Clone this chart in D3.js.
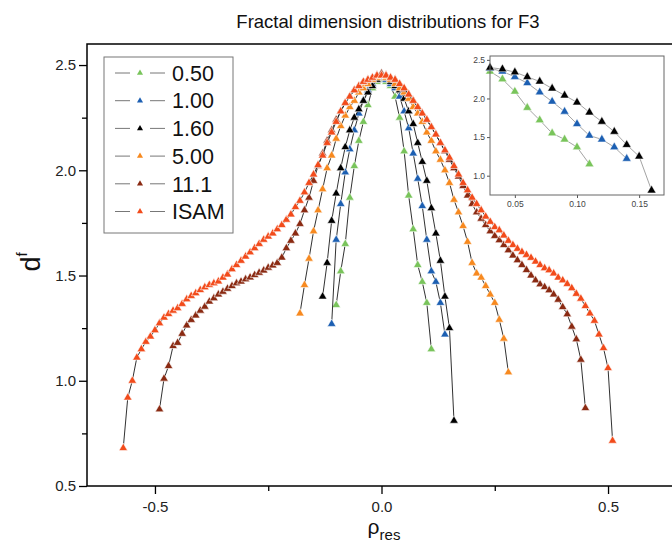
<!DOCTYPE html>
<html>
<head>
<meta charset="utf-8">
<script src="https://cdn.jsdelivr.net/npm/d3@7"></script>
<style>
  body { margin: 0; background: #fff; }
  text { font-family: "Liberation Sans", Arial, sans-serif; }
</style>
</head>
<body>
<svg id="chart"></svg>
<script>
// series names / colours / first rho value (points are spaced 0.01 apart)
var seriesNames  = ["0.50", "1.00", "1.60", "5.00", "11.1", "ISAM"];
var seriesColors = ["#79c45b", "#1c5fb2", "#000000", "#f7891f", "#8a2a12", "#f24b1b"];
var rhoStart     = [-0.10, -0.11, -0.13, -0.18, -0.49, -0.57];

var df050 = [1.36,1.52,1.65,1.87,2.02,2.14,2.23,2.31,2.39,2.42,2.43,2.42,2.40,
             2.35,2.25,2.09,1.88,1.72,1.55,1.47,1.37,1.15];
var df100 = [1.27,1.67,1.84,1.99,2.10,2.19,2.27,2.33,2.38,2.41,2.43,2.44,2.43,2.41,
             2.39,2.35,2.28,2.20,2.08,1.96,1.83,1.67,1.52,1.47,1.37,1.22];
var df160 = [1.40,1.56,1.76,1.89,2.01,2.11,2.19,2.25,2.29,2.33,2.37,2.40,2.43,2.45,
             2.44,2.42,2.40,2.38,2.34,2.28,2.22,2.13,2.04,1.95,1.82,1.70,1.57,1.40,1.25,0.81];
var df500 = [1.32,1.455,1.58,1.71,1.81,1.91,2.01,2.07,2.15,2.21,2.26,2.30,2.33,2.37,2.39,2.41,2.43,2.44,
             2.45,
             2.44,2.43,2.41,2.39,2.37,2.34,2.30,2.27,2.23,2.18,2.14,2.09,2.05,2.00,1.94,1.86,1.80,1.735,
             1.66,1.56,1.51,1.49,1.45,1.41,1.37,1.29,1.20,1.04];
var df111 = [0.864,1.01,1.07,1.165,1.18,1.223,1.263,1.289,1.31,1.333,1.352,1.376,1.392,1.41,1.423,
             1.437,1.45,1.463,1.471,1.482,1.491,1.502,1.513,1.524,1.537,1.548,1.56,1.585,1.63,1.665,
             1.70,1.745,1.81,1.87,1.95,2.02,2.08,2.14,2.19,2.24,2.28,2.32,2.35,2.38,2.40,2.42,2.43,2.44,2.45,
             2.46,
             2.45,2.44,2.43,2.41,2.385,2.36,2.33,2.30,2.27,2.24,2.205,2.17,2.13,2.09,2.05,2.01,1.97,1.925,
             1.88,1.84,1.80,1.77,1.74,1.71,1.688,1.668,1.645,1.62,1.595,1.573,1.55,1.526,1.50,1.477,1.458,
             1.445,1.43,1.41,1.385,1.35,1.316,1.257,1.197,1.10,0.87];
var dfIsam = [0.68,0.92,1.00,1.11,1.15,1.185,1.21,1.24,1.273,1.30,1.317,1.333,1.345,1.365,1.387,1.403,
              1.416,1.431,1.444,1.455,1.463,1.472,1.49,1.505,1.53,1.55,1.57,1.59,1.61,1.63,1.65,1.67,
              1.685,1.70,1.72,1.74,1.765,1.79,1.825,1.855,1.895,1.94,1.98,2.025,2.07,2.13,2.18,2.23,2.28,
              2.32,2.35,2.38,2.40,2.42,2.43,2.44,2.45,
              2.45,
              2.45,2.44,2.43,2.41,2.39,2.36,2.33,2.30,2.27,2.24,2.205,2.17,2.13,2.095,2.06,2.02,1.98,1.94,
              1.905,1.87,1.84,1.81,1.78,1.755,1.73,1.715,1.69,1.665,1.645,1.627,1.612,1.598,1.584,1.566,
              1.55,1.535,1.525,1.51,1.49,1.477,1.46,1.44,1.413,1.39,1.355,1.32,1.285,1.22,1.155,1.06,0.715];

var seriesValues = [df050, df100, df160, df500, df111, dfIsam];

var xTicks = [-0.5, 0, 0.5], xMinor = [-0.25, 0.25];
var yTicks = [0.5, 1.0, 1.5, 2.0, 2.5], yMinor = [0.75, 1.25, 1.75, 2.25];
var insetXTicks = [0.05, 0.10, 0.15], insetYTicks = [1.0, 1.5, 2.0, 2.5];

var series = seriesValues.map(function (vals, s) {
  return {
    name: seriesNames[s],
    color: seriesColors[s],
    points: vals.map(function (v, i) {
      return { x: Math.round((rhoStart[s] + i * 0.01) * 100) / 100, y: v };
    })
  };
});

var svgWidth = 672, svgHeight = 543;
var svg = d3.select("#chart")
  .attr("width", svgWidth)
  .attr("height", svgHeight);

var xScale = d3.scaleLinear().domain([-0.65, 0.65]).range([87, 676]);
var yScale = d3.scaleLinear().domain([0.5, 2.6]).range([486, 44]);

// title
svg.append("text")
  .attr("x", 388).attr("y", 28)
  .attr("text-anchor", "middle")
  .attr("font-size", 18.5).attr("fill", "#111")
  .text("Fractal dimension distributions for F3");

// axes
function fmt1(d) { return d.toFixed(1); }

var yAx = svg.append("g").attr("transform", "translate(87,0)")
  .call(d3.axisLeft(yScale).tickValues(yTicks).tickSize(8).tickSizeOuter(0).tickPadding(3).tickFormat(fmt1));
var yAxMinor = svg.append("g").attr("transform", "translate(87,0)")
  .call(d3.axisLeft(yScale).tickValues(yMinor).tickSize(5).tickSizeOuter(0).tickFormat(""));
var xAx = svg.append("g").attr("transform", "translate(0,486)")
  .call(d3.axisBottom(xScale).tickValues(xTicks).tickSize(8).tickSizeOuter(0).tickPadding(7.5).tickFormat(fmt1));
var xAxMinor = svg.append("g").attr("transform", "translate(0,486)")
  .call(d3.axisBottom(xScale).tickValues(xMinor).tickSize(5).tickSizeOuter(0).tickFormat(""));

[yAx, yAxMinor, xAx, xAxMinor].forEach(function (g) {
  g.select(".domain").remove();
  g.selectAll("line").attr("stroke", "#000").attr("stroke-width", 1.3);
  g.selectAll("text").attr("font-size", 15).attr("fill", "#222")
    .style("font-family", "'Liberation Sans', Arial, sans-serif");
});

// plot frame
svg.append("rect")
  .attr("x", 87).attr("y", 44)
  .attr("width", 676 - 87).attr("height", 486 - 44)
  .attr("fill", "none").attr("stroke", "#000").attr("stroke-width", 1.5);

// axis labels
var yLab = svg.append("text")
  .attr("transform", "translate(40,262) rotate(-90)")
  .attr("text-anchor", "middle")
  .attr("font-size", 27).attr("fill", "#111");
yLab.append("tspan").text("d");
yLab.append("tspan").attr("font-size", 15).attr("dy", -13).text("f");

var xLab = svg.append("text")
  .attr("x", 384).attr("y", 534)
  .attr("text-anchor", "middle")
  .attr("font-size", 21).attr("fill", "#111");
xLab.append("tspan").text("ρ");
xLab.append("tspan").attr("font-size", 15).attr("dy", 6).text("res");

// curves
var line = d3.line()
  .x(function (d) { return xScale(d.x); })
  .y(function (d) { return yScale(d.y); });
var tri = d3.symbol().type(d3.symbolTriangle).size(32);

series.forEach(function (s) {
  var g = svg.append("g");
  g.append("path")
    .datum(s.points)
    .attr("d", line)
    .attr("fill", "none")
    .attr("stroke", "#1a1a1a")
    .attr("stroke-width", 0.9);
  g.selectAll("path.pt")
    .data(s.points)
    .enter()
    .append("path")
    .attr("class", "pt")
    .attr("d", tri)
    .attr("transform", function (d) { return "translate(" + xScale(d.x) + "," + yScale(d.y) + ")"; })
    .attr("fill", s.color)
    .attr("stroke", "#fff")
    .attr("stroke-width", 0.6);
});

// legend
var legend = svg.append("g");
legend.append("rect")
  .attr("x", 104).attr("y", 57).attr("width", 129).attr("height", 176)
  .attr("fill", "#fff").attr("stroke", "#777").attr("stroke-width", 1);

var legendRows = legend.selectAll("g.row")
  .data(series)
  .enter()
  .append("g")
  .attr("class", "row")
  .attr("transform", function (d, i) { return "translate(0," + (73 + i * 27.7) + ")"; });
legendRows.append("line").attr("x1", 115).attr("x2", 130).attr("stroke", "#777").attr("stroke-width", 1);
legendRows.append("line").attr("x1", 150).attr("x2", 165).attr("stroke", "#777").attr("stroke-width", 1);
legendRows.append("path")
  .attr("d", d3.symbol().type(d3.symbolTriangle).size(16))
  .attr("transform", "translate(140,0)")
  .attr("fill", function (d) { return d.color; });
legendRows.append("text")
  .attr("x", 172).attr("dy", "0.36em")
  .attr("font-size", 21.5).attr("fill", "#111")
  .text(function (d) { return d.name; });

// inset: positive tails of the three narrowest distributions
var ix = d3.scaleLinear().domain([0.03, 0.17]).range([490, 664]);
var iy = d3.scaleLinear().domain([0.75, 2.55]).range([195, 56]);

var inset = svg.append("g");
inset.append("rect")
  .attr("x", 490).attr("y", 56).attr("width", 174).attr("height", 139)
  .attr("fill", "#fff");

var iyAx = inset.append("g").attr("transform", "translate(490,0)")
  .call(d3.axisLeft(iy).tickValues(insetYTicks).tickSize(3).tickSizeOuter(0).tickPadding(2).tickFormat(fmt1));
var ixAx = inset.append("g").attr("transform", "translate(0,195)")
  .call(d3.axisBottom(ix).tickValues(insetXTicks).tickSize(3).tickSizeOuter(0).tickPadding(3)
    .tickFormat(function (d) { return d.toFixed(2); }));
[iyAx, ixAx].forEach(function (g) {
  g.select(".domain").remove();
  g.selectAll("line").attr("stroke", "#555");
  g.selectAll("text").attr("font-size", 8.5).attr("fill", "#444")
    .style("font-family", "'Liberation Sans', Arial, sans-serif");
});

var iline = d3.line()
  .x(function (d) { return ix(d.x); })
  .y(function (d) { return iy(d.y); });

series.slice(0, 3).forEach(function (s) {
  var pts = s.points.filter(function (d) { return d.x >= 0.03; });
  var g = inset.append("g");
  g.append("path")
    .datum(pts)
    .attr("d", iline)
    .attr("fill", "none")
    .attr("stroke", "#999")
    .attr("stroke-width", 0.9);
  g.selectAll("path.pt")
    .data(pts)
    .enter()
    .append("path")
    .attr("class", "pt")
    .attr("d", d3.symbol().type(d3.symbolTriangle).size(34))
    .attr("transform", function (d) { return "translate(" + ix(d.x) + "," + iy(d.y) + ")"; })
    .attr("fill", s.color)
    .attr("stroke", "#fff")
    .attr("stroke-width", 0.5);
});

inset.append("rect")
  .attr("x", 490).attr("y", 56).attr("width", 174).attr("height", 139)
  .attr("fill", "none").attr("stroke", "#666").attr("stroke-width", 1);
</script>
</body>
</html>
